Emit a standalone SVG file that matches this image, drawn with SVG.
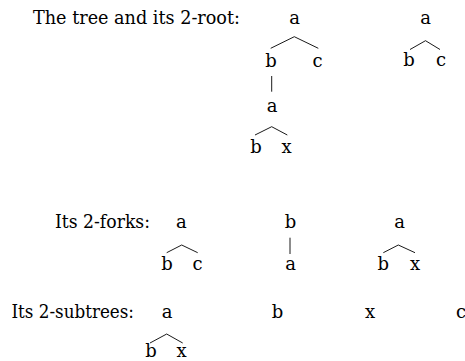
<svg xmlns="http://www.w3.org/2000/svg" width="465" height="361" viewBox="0 0 465 361" font-family="'DejaVu Serif', serif" font-size="18">
<style>
.n{text-anchor:middle}
.e{stroke:#000;stroke-width:0.9;fill:none}
</style>
<rect width="465" height="361" fill="#fff"/>
<g id="labels">
<text x="33" y="24" textLength="207" lengthAdjust="spacingAndGlyphs">The tree and its 2-root:</text>
<text x="55" y="228.3" textLength="95" lengthAdjust="spacingAndGlyphs">Its 2-forks:</text>
<text x="11.5" y="318.3" textLength="122.5" lengthAdjust="spacingAndGlyphs">Its 2-subtrees:</text>
</g>
<g id="connectors">
<polyline class="e" points="270.7,48.3 294.3,36.7 318.3,48.3"/>
<line class="e" x1="271.7" y1="76" x2="271.7" y2="91.7"/>
<polyline class="e" points="255,135 271.7,126.7 287.3,135"/>
<polyline class="e" points="410,49.5 425.5,40.7 440,49.5"/>
<polyline class="e" points="166.7,252.7 181.7,245 197.7,252.7"/>
<line class="e" x1="290" y1="237.7" x2="290" y2="254"/>
<polyline class="e" points="383.3,252.7 398.3,245 415,252.7"/>
<polyline class="e" points="150,343 166.7,334 182.7,343"/>
</g>
<g id="t1-a"><text class="n" x="294.5" y="24">a</text></g>
<g id="t1-b"><text class="n" x="271" y="66.5">b</text></g>
<g id="t1-c"><text class="n" x="317.5" y="66.5">c</text></g>
<g id="t1-a2"><text class="n" x="272" y="111.7">a</text></g>
<g id="t1-b2"><text class="n" x="256" y="152.7">b</text></g>
<g id="t1-x"><text class="n" x="286.7" y="152.7">x</text></g>
<g id="r-a"><text class="n" x="425.5" y="24">a</text></g>
<g id="r-b"><text class="n" x="409" y="66">b</text></g>
<g id="r-c"><text class="n" x="441" y="66">c</text></g>
<g id="f1-a"><text class="n" x="181.3" y="228.3">a</text></g>
<g id="f1-b"><text class="n" x="167" y="270">b</text></g>
<g id="f1-c"><text class="n" x="197.5" y="270">c</text></g>
<g id="f2-b"><text class="n" x="290.5" y="228.3">b</text></g>
<g id="f2-a"><text class="n" x="290.5" y="270">a</text></g>
<g id="f3-a"><text class="n" x="399.5" y="228.3">a</text></g>
<g id="f3-b"><text class="n" x="383.3" y="270">b</text></g>
<g id="f3-x"><text class="n" x="415" y="270">x</text></g>
<g id="s1-a"><text class="n" x="167" y="318.3">a</text></g>
<g id="s1-b"><text class="n" x="151" y="357">b</text></g>
<g id="s1-x"><text class="n" x="181.7" y="357">x</text></g>
<g id="s2-b"><text class="n" x="277.5" y="318.3">b</text></g>
<g id="s3-x"><text class="n" x="370" y="318.3">x</text></g>
<g id="s4-c"><text class="n" x="461" y="318.3">c</text></g>
</svg>
